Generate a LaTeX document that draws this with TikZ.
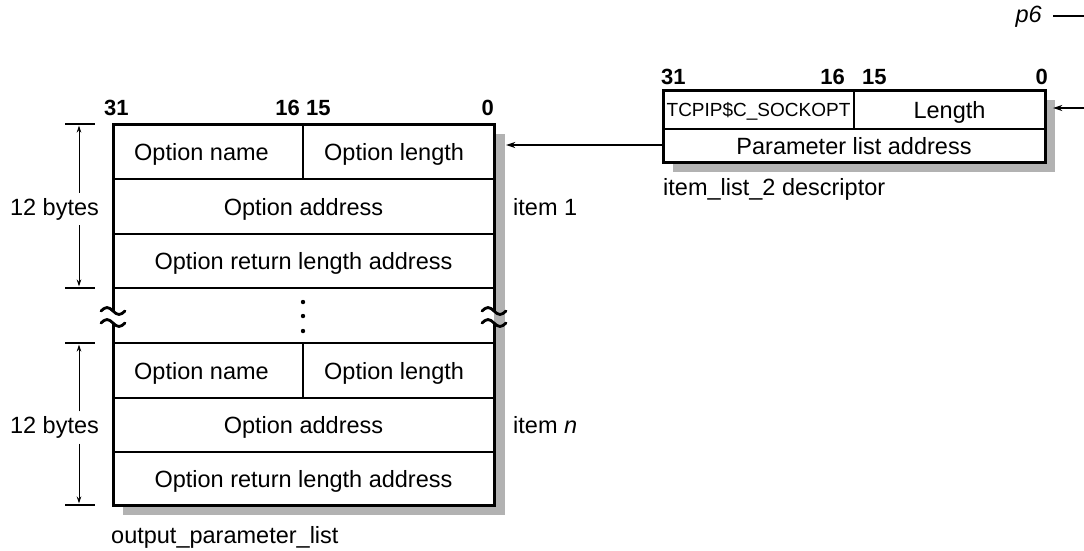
\documentclass[tikz,border=0pt]{standalone}
\usepackage{fontspec}
\setmainfont{Liberation Sans}
\usetikzlibrary{arrows.meta}
\begin{document}
\begin{tikzpicture}[x=1pt,y=-1pt,
  txt/.style={inner sep=0pt, font=\fontsize{23.5}{28}\selectfont},
  bitno/.style={inner sep=0pt, font=\bfseries\fontsize{22}{26}\selectfont},
  smalltxt/.style={inner sep=0pt, font=\fontsize{19}{23}\selectfont},
  rule/.style={line width=1.4pt},
  frame/.style={line width=3pt, line join=miter},
  shade/.style={fill=black!30},
  ptr/.style={line width=1.2pt, -{Stealth[length=9pt,width=6pt]}},
  dimarr/.style={line width=1pt, -{Stealth[length=7pt,width=4.5pt]}},
  brk/.style={line width=2.8pt, line cap=round},
]
\useasboundingbox (0,0) rectangle (1084,550);

% ---------- output parameter list ----------
\node[inner sep=0pt, minimum width=381pt, minimum height=381pt] (plist) at (303.5,314.5) {};
\fill[shade] (123,134) rectangle (505,515);
\fill[white] (113,124) rectangle (494,505);
\foreach \y in {179,234,288,343,398,452} \draw[rule] (113,\y) -- (494,\y);
\draw[rule] (303,124) -- (303,179);
\draw[rule] (303,343) -- (303,398);
\draw[frame] (113,311) -- (113,124) -- (494,124) -- (494,311);
\draw[frame] (113,323) -- (113,505) -- (494,505) -- (494,323);
\foreach \x in {113,494} \foreach \y in {311,323}
  \draw[brk] (\x-12,\y) sin (\x-6,\y-3.5) cos (\x,\y) sin (\x+6,\y+3.5) cos (\x+12,\y);
\foreach \y in {302,316,331} \fill (303,\y) circle (2.2);

\node[txt, anchor=base west] (on1) at (134,160) {Option name};
\node[txt, anchor=base west] (ol1) at (324,160) {Option length};
\node[txt, anchor=base] (oa1) at (303.5,215) {Option address};
\node[txt, anchor=base] (or1) at (303.5,269.5) {Option return length address};
\node[txt, anchor=base west] (onn) at (134,379) {Option name};
\node[txt, anchor=base west] (oln) at (324,379) {Option length};
\node[txt, anchor=base] (oan) at (303.5,433.5) {Option address};
\node[txt, anchor=base] (orn) at (303.5,487) {Option return length address};

\node[bitno, anchor=base west] (b31) at (104,115) {31};
\node[bitno, anchor=base east] (b16) at (300,115) {16};
\node[bitno, anchor=base west] (b15) at (306,115) {15};
\node[bitno, anchor=base east] (b0) at (494,115) {0};

\node[txt, anchor=base west] (it1) at (513,215) {item 1};
\node[txt, anchor=base west] (itn) at (513,433.5) {item \textit{n}};
\node[txt, anchor=base west] (opl) at (111,543) {output\_parameter\_list};

% dimension marks
\foreach \y in {124,288,343,505} \draw[rule] (65,\y) -- (95,\y);
\coordinate (ax) at (79,0);
\node[txt, anchor=base, inner sep=5pt] (d1) at (54.5,215) {12 bytes};
\node[txt, anchor=base, inner sep=5pt] (d2) at (54.5,433.5) {12 bytes};
\coordinate (t1) at (79,125.5);
\coordinate (t2) at (79,286.5);
\coordinate (t3) at (79,344.5);
\coordinate (t4) at (79,503.5);
\draw[dimarr] (ax |- d1.north) -- (t1);
\draw[dimarr] (ax |- d1.south) -- (t2);
\draw[dimarr] (ax |- d2.north) -- (t3);
\draw[dimarr] (ax |- d2.south) -- (t4);

% ---------- item_list_2 descriptor ----------
\node[inner sep=0pt, minimum width=382pt, minimum height=72pt] (desc) at (854,126) {};
\fill[shade] (673,100) rectangle (1055,172);
\fill[white] (663,90) rectangle (1045,162);
\draw[rule] (663,129) -- (1045,129);
\draw[rule] (854,90) -- (854,129);
\draw[frame] (663,90) rectangle (1045,162);

\node[smalltxt, anchor=base] (sock) at (758.5,116.5) {TCPIP\$C\_SOCKOPT};
\node[txt, anchor=base] (len) at (949.5,118) {Length};
\node[txt, anchor=base] (pla) at (854,154) {Parameter list address};

\node[bitno, anchor=base west] (c31) at (661,84) {31};
\node[bitno, anchor=base east] (c16) at (845,84) {16};
\node[bitno, anchor=base west] (c15) at (862,84) {15};
\node[bitno, anchor=base east] (c0) at (1048,84) {0};
\node[txt, anchor=base west] (idesc) at (663,195) {item\_list\_2 descriptor};

% connectors
\coordinate (a1) at ([yshift=-19pt]desc.west);
\coordinate (tipx) at ([xshift=12pt]plist.east);
\draw[ptr] (a1) -- (a1 -| tipx);

\coordinate (in2) at (1084,108);
\coordinate (descin) at ([xshift=8pt]desc.east);
\draw[ptr] (in2) -- (in2 -| descin);

\node[txt, anchor=base east, font=\itshape\fontsize{23.5}{28}\selectfont] (p6) at (1042,22) {p6};
\coordinate (p6end) at (1084,16);
\draw[rule] ([xshift=11pt]p6.east |- p6end) -- (p6end);
\end{tikzpicture}
\end{document}
